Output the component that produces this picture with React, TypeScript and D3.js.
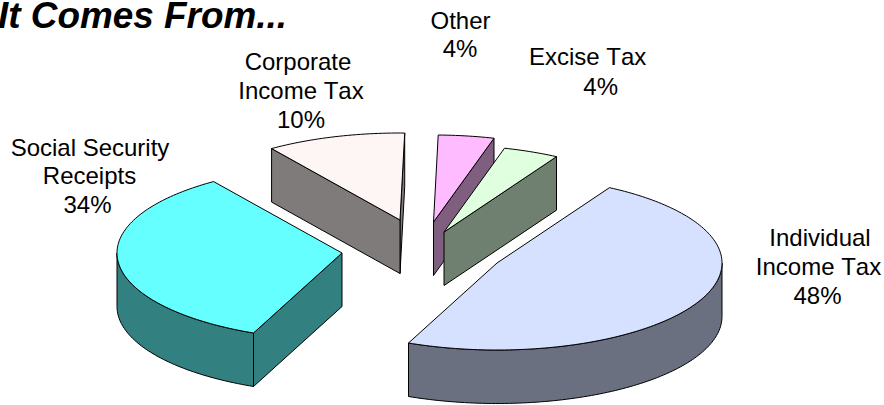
import React from "react";
import * as d3 from "d3";

const categories = ["Individual Income Tax", "Social Security Receipts", "Corporate Income Tax", "Other", "Excise Tax"];
const values = [48.1, 33.9, 10, 4, 4];
const topColors = ["#d6e1ff", "#66ffff", "#fdf6f5", "#ffbbff", "#dfffdf"];
const wallColors = ["#6b7080", "#338080", "#7f7b7b", "#805e80", "#708070"];
const centerX = [497, 342, 400, 433.5, 444];
const centerY = [263, 253, 220, 222, 232];

const labelLines = [
  ["Individual", "Income Tax", "48%"],
  ["Social Security", "Receipts", "34%"],
  ["Corporate", "Income Tax", "10%"],
  ["Other", "4%"],
  ["Excise Tax", "4%"],
];
const labelX = [
  [820, 818.5, 817.5],
  [90, 89.5, 87.5],
  [298, 301, 301],
  [460.5, 460],
  [587.6, 600.7],
];
const labelY = [
  [245.5, 275, 303.5],
  [156, 184, 213],
  [70, 99, 127.5],
  [28.5, 56.5],
  [65, 95],
];

const W = 884;
const H = 405;
const RX = 225;
const RY = 87;
const DEPTH = 53.5;

const pie = d3
  .pie<number>()
  .sort(null)
  .startAngle((30 * Math.PI) / 180)
  .endAngle((390 * Math.PI) / 180);

const line = d3
  .line<[number, number]>()
  .x((d) => d[0])
  .y((d) => d[1]);

function rimPoints(a0: number, a1: number, cx: number, cy: number, dy = 0): [number, number][] {
  const n = Math.max(2, Math.ceil(Math.abs(a1 - a0) / 0.02));
  const t = d3.scaleLinear().domain([0, n]).range([a0, a1]);
  return d3.range(n + 1).map((i) => {
    const a = t(i);
    return [cx + RX * Math.sin(a), cy - RY * Math.cos(a) + dy] as [number, number];
  });
}

function edgeFace(a: number, cx: number, cy: number): string {
  const o: [number, number] = [cx, cy];
  const p = rimPoints(a, a, cx, cy)[0];
  return line([o, p, [p[0], p[1] + DEPTH], [cx, cy + DEPTH]]) + "Z";
}

function Slice({ i, a0, a1 }: { i: number; a0: number; a1: number }) {
  const cx = centerX[i];
  const cy = centerY[i];
  const faces: string[] = [];
  if (Math.sin(a1) > 0) faces.push(edgeFace(a1, cx, cy));
  if (Math.sin(a0) < 0) faces.push(edgeFace(a0, cx, cy));
  const lo = Math.max(a0, Math.PI / 2);
  const hi = Math.min(a1, (3 * Math.PI) / 2);
  if (hi > lo) {
    const top = rimPoints(lo, hi, cx, cy);
    const bottom = rimPoints(hi, lo, cx, cy, DEPTH);
    faces.push(line([...top, ...bottom]) + "Z");
  }
  const topPath = line([[cx, cy], ...rimPoints(a0, a1, cx, cy)]) + "Z";
  return (
    <g stroke="#000" strokeWidth={1} strokeLinejoin="round">
      {faces.map((d, k) => (
        <path key={k} d={d} fill={wallColors[i]} />
      ))}
      <path d={topPath} fill={topColors[i]} />
    </g>
  );
}

export default function App() {
  const arcs = pie(values);
  const order = [1, 2, 3, 4, 0];
  return (
    <svg
      width={W}
      height={H}
      viewBox={`0 0 ${W} ${H}`}
      style={{ position: "absolute", left: 0, top: 0, background: "#fff", fontKerning: "none" }}
      fontFamily="'Liberation Sans', Arial, sans-serif"
    >
      {order.map((i) => (
        <Slice key={categories[i]} i={i} a0={arcs[i].startAngle} a1={arcs[i].endAngle} />
      ))}
      <text x={-2} y={28} fontSize={36.9} fontWeight="bold" fontStyle="italic" fill="#000">
        It Comes From...
      </text>
      {labelLines.map((lines, i) =>
        lines.map((t, k) => (
          <text key={k + t + i} x={labelX[i][k]} y={labelY[i][k]} fontSize={24} textAnchor="middle" fill="#000">
            {t}
          </text>
        ))
      )}
    </svg>
  );
}
